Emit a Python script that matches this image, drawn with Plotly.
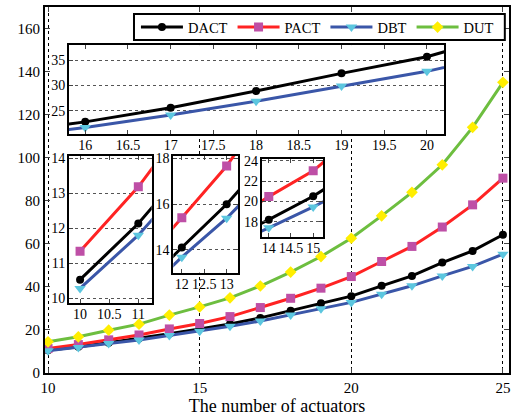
import plotly.graph_objects as go

actuators = list(range(10, 26))
dact = [10.54, 12.14, 14.1, 15.99, 18.2, 20.5, 22.8, 25.6, 28.9, 32.4, 35.7, 40.5, 45.1, 51.3, 56.7, 64.2]
pact = [11.35, 13.19, 15.4, 17.66, 20.47, 23.0, 26.2, 30.4, 34.7, 39.4, 44.8, 51.8, 58.8, 67.8, 78.1, 90.5]
dbt = [10.29, 11.81, 13.68, 15.38, 17.4, 19.45, 21.7, 24.15, 26.9, 29.9, 32.8, 36.6, 40.5, 45.1, 49.5, 55.2]
dut = [14.5, 16.8, 19.9, 22.7, 26.9, 30.7, 34.9, 40.4, 46.9, 54.1, 62.6, 73.0, 83.9, 96.7, 114.1, 135.0]

FONT = "Liberation Serif"

styles = {
    "DACT": dict(line="#000000", marker="#000000", symbol="circle", size=8),
    "PACT": dict(line="#FF2323", marker="#BE4FA6", symbol="square", size=9),
    "DBT": dict(line="#3A56A8", marker="#5CC6DF", symbol="triangle-down", size=10),
    "DUT": dict(line="#6DBE3F", marker="#FFEE00", symbol="diamond", size=9),
}
series = {"DACT": dact, "PACT": pact, "DBT": dbt, "DUT": dut}

fig = go.Figure()

def add(name, xa, ya, show):
    s = styles[name]
    fig.add_trace(go.Scatter(
        x=actuators, y=series[name], name=name, mode="lines+markers",
        line=dict(color=s["line"], width=3),
        marker=dict(color=s["marker"], symbol=s["symbol"], size=s["size"],
                    line=dict(width=0)),
        xaxis=xa, yaxis=ya, showlegend=show))

for n in ["DACT", "PACT", "DBT", "DUT"]:
    add(n, "x", "y", True)
for n in ["DACT", "DBT"]:
    add(n, "x2", "y2", False)
for xa, ya in [("x3", "y3"), ("x4", "y4"), ("x5", "y5")]:
    for n in ["DACT", "PACT", "DBT"]:
        add(n, xa, ya, False)

tickfont = dict(family=FONT, size=15, color="black")
insetfont = dict(family=FONT, size=14, color="black")

def inset_axes(xr, yr, xd, yd, xt, yt):
    xa = dict(range=xr, domain=xd, tickvals=xt, ticks="inside", ticklen=4,
              showline=True, linecolor="black", linewidth=2, mirror="ticks",
              showgrid=False, zeroline=False, tickfont=insetfont,
              ticklabelstandoff=-3, automargin=False)
    ya = dict(range=yr, domain=yd, tickvals=yt, ticks="inside", ticklen=4,
              showline=True, linecolor="black", linewidth=2, mirror="ticks",
              showgrid=True, gridcolor="#555555", griddash="dot", gridwidth=1,
              zeroline=False, tickfont=insetfont, ticklabelstandoff=-1,
              automargin=False)
    return xa, ya

x2, y2 = inset_axes([15.81, 20.2], [20.4, 38.0], [0.0517, 0.860], [0.653, 0.896],
                    [16, 16.5, 17, 17.5, 18, 18.5, 19, 19.5, 20], [25, 30, 35])
x3, y3 = inset_axes([9.81, 11.23], [9.86, 14.07], [0.0517, 0.230], [0.190, 0.593],
                    [10, 10.5, 11], [10, 11, 12, 13, 14])
x4, y4 = inset_axes([11.81, 13.26], [13.0, 18.1], [0.2765, 0.4166], [0.274, 0.593],
                    [12, 12.5, 13], [14, 16, 18])
x5, y5 = inset_axes([13.84, 15.23], [16.5, 24.14], [0.467, 0.600], [0.3716, 0.584],
                    [14, 14.5, 15], [18, 20, 22, 24])
for d, a in [(x2, "y2"), (x3, "y3"), (x4, "y4"), (x5, "y5")]:
    d["anchor"] = a
for d, a in [(y2, "x2"), (y3, "x3"), (y4, "x4"), (y5, "x5")]:
    d["anchor"] = a

fig.update_layout(
    width=515, height=416,
    margin=dict(l=45, r=6, t=7, b=43),
    paper_bgcolor="white", plot_bgcolor="white",
    font=dict(family=FONT, size=14, color="black"),
    xaxis=dict(range=[9.9, 25.2], tickvals=[10, 15, 20, 25], ticks="inside", ticklen=5,
               showline=True, linecolor="black", linewidth=2, mirror="ticks",
               showgrid=True, gridcolor="black", griddash="dot", gridwidth=1,
               zeroline=False, tickfont=tickfont, automargin=False,
               title=dict(text="The number of actuators", font=dict(family=FONT, size=18),
                          standoff=1)),
    yaxis=dict(range=[0, 170], tickvals=list(range(0, 161, 20)), ticks="inside", ticklen=5,
               showline=True, linecolor="black", linewidth=2, mirror="ticks",
               showgrid=False, zeroline=False, tickfont=tickfont, automargin=False),
    xaxis2=x2, yaxis2=y2, xaxis3=x3, yaxis3=y3, xaxis4=x4, yaxis4=y4, xaxis5=x5, yaxis5=y5,
    legend=dict(orientation="h", x=0.196, y=0.945, xanchor="left", yanchor="middle",
                bgcolor="rgba(0,0,0,0)", borderwidth=0,
                font=dict(family=FONT, size=14.5), itemwidth=42, tracegroupgap=0),
    shapes=[dict(type="rect", xref="paper", yref="paper", x0=0.1918, x1=0.991,
                 y0=0.910, y1=0.981, fillcolor="white",
                 line=dict(color="black", width=2), layer="above")],
)

fig.write_html("out.html")
